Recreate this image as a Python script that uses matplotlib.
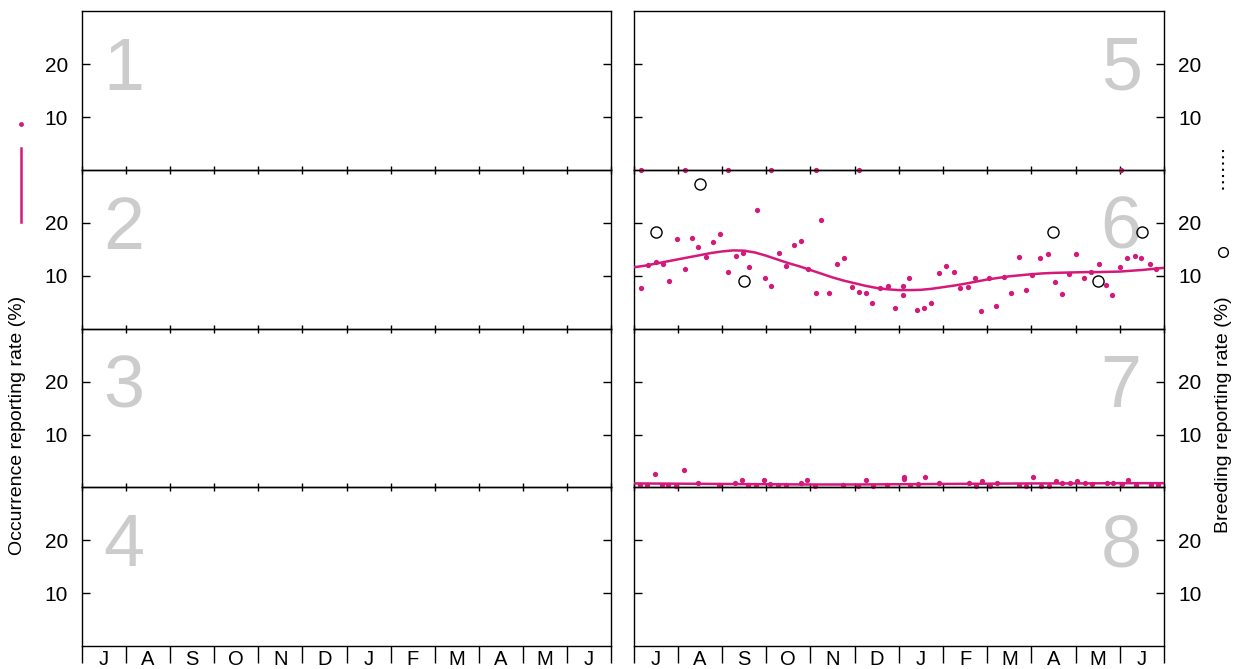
import numpy as np
import matplotlib.pyplot as plt
from matplotlib.lines import Line2D

plt.rcParams['font.family'] = ['Liberation Sans', 'DejaVu Sans']

months = ['J', 'A', 'S', 'O', 'N', 'D', 'J', 'F', 'M', 'A', 'M', 'J']

# panel 5: occurrence points (all zero)
p5_x = [0.16, 1.17, 2.13, 3.10, 4.12, 5.09, 11.02]
p5_y = [0, 0, 0, 0, 0, 0, 0]

# panel 6: occurrence points
p6_x = [0.17, 0.32, 0.51, 0.66, 0.81, 0.99, 1.17, 1.32, 1.47, 1.65, 1.80, 1.95,
        2.14, 2.32, 2.47, 2.62, 2.80, 2.98, 3.10, 3.28, 3.46, 3.62, 3.80, 3.95,
        4.13, 4.25, 4.43, 4.61, 4.76, 4.94, 5.09, 5.27, 5.40, 5.58, 5.76, 5.91,
        6.09, 6.09, 6.24, 6.42, 6.57, 6.72, 6.91, 7.06, 7.24, 7.39, 7.57, 7.72,
        7.87, 8.05, 8.20, 8.38, 8.53, 8.72, 8.87, 9.02, 9.20, 9.38, 9.53, 9.69,
        9.86, 10.02, 10.20, 10.35, 10.53, 10.68, 10.83, 11.01, 11.16, 11.34,
        11.49, 11.68, 11.83]
p6_y = [7.6, 12.1, 12.6, 12.3, 9.1, 16.9, 11.3, 17.1, 15.4, 13.6, 16.4, 17.9,
        10.8, 13.8, 14.3, 11.6, 22.4, 9.6, 8.1, 14.3, 11.8, 15.9, 16.6, 11.3,
        6.8, 20.6, 6.8, 12.3, 13.3, 7.8, 7.0, 6.8, 4.8, 7.6, 8.1, 4.0,
        8.1, 6.3, 9.6, 3.5, 4.0, 4.8, 10.6, 11.8, 10.8, 7.6, 7.8, 9.6,
        3.3, 9.6, 4.3, 9.8, 6.8, 13.6, 7.3, 10.1, 13.3, 14.1, 8.8, 6.5,
        10.3, 14.1, 9.6, 10.8, 12.3, 8.3, 6.3, 11.6, 13.3, 13.8,
        13.3, 12.3, 11.3]

# panel 6: smoothed occurrence curve
p6_curve_x = [0, 0.25, 0.5, 0.75, 1, 1.25, 1.5, 1.75, 2, 2.25, 2.5, 2.75, 3,
              3.25, 3.5, 3.75, 4, 4.25, 4.5, 4.75, 5, 5.25, 5.5, 5.75, 6,
              6.25, 6.5, 6.75, 7, 7.25, 7.5, 7.75, 8, 8.25, 8.5, 8.75, 9,
              9.25, 9.5, 9.75, 10, 10.25, 10.5, 10.75, 11, 11.25, 11.5, 11.75, 12]
p6_curve_y = [11.6, 11.9, 12.3, 12.7, 13.1, 13.5, 13.9, 14.3, 14.6, 14.8, 14.75,
              14.4, 13.8, 13.1, 12.4, 11.8, 11.1, 10.4, 9.7, 9.1, 8.6, 8.1,
              7.7, 7.45, 7.3, 7.3, 7.35, 7.55, 7.85, 8.15, 8.5, 8.9, 9.3,
              9.6, 9.9, 10.1, 10.3, 10.45, 10.55, 10.6, 10.65, 10.7, 10.7,
              10.75, 10.8, 10.95, 11.1, 11.3, 11.5]

# panel 6: breeding reporting rate
p6_breed_x = [0.5, 1.5, 2.5, 9.5, 10.5, 11.5]
p6_breed_y = [18.2, 27.3, 9.1, 18.2, 9.1, 18.2]

# panel 7: occurrence points
p7_x = [0.15, 0.30, 0.49, 0.64, 0.79, 0.97, 1.15, 1.46, 1.94, 2.30, 2.45, 2.60,
        2.78, 2.96, 3.08, 3.27, 3.45, 3.78, 3.93, 4.11, 4.74, 5.08, 5.26, 5.41,
        5.74, 6.11, 6.11, 6.26, 6.44, 6.59, 6.92, 7.59, 7.74, 7.89, 8.07, 8.22,
        8.73, 8.88, 9.04, 9.22, 9.40, 9.55, 9.70, 9.88, 10.04, 10.22, 10.37,
        10.70, 10.85, 11.04, 11.19, 11.37, 11.71, 11.86]
p7_y = [0.4, 0.4, 2.5, 0.4, 0.4, 0.25, 3.2, 0.9, 0.4, 0.9, 1.45, 0.4,
        0.4, 1.45, 0.7, 0.4, 0.4, 0.9, 1.45, 0.2, 0.4, 0.2, 1.45, 0.2,
        0.4, 2.0, 1.6, 0.4, 0.7, 1.95, 0.9, 0.9, 0.2, 1.2, 0.2, 0.9,
        0.4, 0.2, 1.95, 0.2, 0.2, 1.2, 0.9, 0.9, 1.2, 0.9, 0.7,
        0.9, 0.9, 0.7, 1.45, 0.4, 0.4, 0.4]

# panel 7: smoothed occurrence curve
p7_curve_x = [0, 1, 2, 3, 4, 5, 6, 7, 8, 9, 10, 11, 12]
p7_curve_y = [0.75, 0.7, 0.65, 0.6, 0.55, 0.55, 0.6, 0.65, 0.7, 0.75, 0.75, 0.8, 0.8]

pink = '#d4197a'
W, H = 1241, 669

fig = plt.figure(figsize=(12.41, 6.69), dpi=100)

col_left = [82 / W, 633.5 / W]
col_width = [529 / W, 530.5 / W]
row_top = 11.3
row_h = 158.7

axes = {}
for col in range(2):
    for row in range(4):
        n = col * 4 + row + 1
        bottom = 1 - (row_top + (row + 1) * row_h) / H
        ax = fig.add_axes([col_left[col], bottom, col_width[col], row_h / H])
        ax.set_facecolor('none')
        ax.set_xlim(0, 12)
        ax.set_ylim(0, 30)
        ax.set_yticks([10, 20])
        ax.tick_params(axis='y', direction='in', length=6, width=1,
                       left=True, right=True,
                       labelleft=(col == 0), labelright=(col == 1),
                       labelsize=15, pad=10)
        ax.set_xticks(np.arange(0, 13, 1))
        ax.set_xticks(np.arange(0.5, 12, 1), minor=True)
        ax.set_xticklabels([])
        if row < 3:
            ax.tick_params(axis='x', which='major', direction='inout', length=6,
                           width=1, top=False, labelbottom=False)
            ax.tick_params(axis='x', which='minor', length=0, labelbottom=False)
        else:
            ax.tick_params(axis='x', which='major', direction='out', length=12,
                           width=1, top=False)
            ax.set_xticklabels(months, minor=True)
            ax.tick_params(axis='x', which='minor', length=0, pad=3,
                           labelsize=14.5)
        for s in ax.spines.values():
            s.set_linewidth(1)
        if col == 0:
            ax.text(0.04, (row_h - 90 + 11.3) / row_h, str(n), transform=ax.transAxes,
                    fontsize=53, color='#cccccc', ha='left', va='baseline')
        else:
            ax.text(0.958, (row_h - 90 + 11.3) / row_h, str(n), transform=ax.transAxes,
                    fontsize=53, color='#cccccc', ha='right', va='baseline')
        axes[n] = ax

axes[5].plot(p5_x, p5_y, 'o', ms=3.8, color=pink, mec='none', clip_on=False, zorder=5)

axes[6].plot(p6_x, p6_y, 'o', ms=3.8, color=pink, mec='none', zorder=4)
axes[6].plot(p6_curve_x, p6_curve_y, '-', lw=1.8, color=pink, zorder=3)
axes[6].plot(p6_breed_x, p6_breed_y, 'o', ms=8, mfc='none', mec='black', mew=1,
             zorder=5, clip_on=False)

axes[7].plot(p7_x, p7_y, 'o', ms=3.8, color=pink, mec='none', clip_on=False, zorder=4)
axes[7].plot(p7_curve_x, p7_curve_y, '-', lw=1.8, color=pink, zorder=3)

fig.text(18 / W, 1 - 425 / H, 'Occurrence reporting rate (%)', rotation=90,
         ha='center', va='center', fontsize=14)
fig.text(1223 / W, 1 - 415 / H, 'Breeding reporting rate (%)', rotation=90,
         ha='center', va='center', fontsize=14)

# hand-made legend keys beside the axis titles
fig.add_artist(Line2D([21 / W], [1 - 124 / H], marker='o', ms=3.5, color=pink,
                      mec='none', ls='none'))
fig.add_artist(Line2D([21 / W, 21 / W], [1 - 148 / H, 1 - 222 / H], color=pink, lw=1.8))
fig.add_artist(Line2D([1223 / W, 1223 / W], [1 - 150 / H, 1 - 190 / H], color='black',
                      lw=1.5, ls=(0, (1, 2))))
fig.add_artist(Line2D([1223 / W], [1 - 252 / H], marker='o', ms=7, mfc='none',
                      mec='black', mew=1, ls='none'))

plt.savefig('out.png', dpi=100)
